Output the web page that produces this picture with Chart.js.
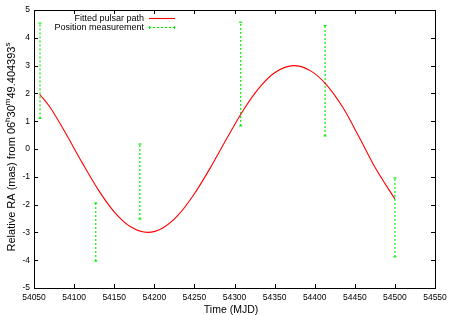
<!DOCTYPE html>
<html><head><meta charset="utf-8">
<script src="https://cdn.jsdelivr.net/npm/chart.js@4/dist/chart.umd.min.js"></script>
<style>html,body{margin:0;padding:0;background:#fff}canvas{display:block}</style>
</head><body>
<canvas id="c" width="450" height="315"></canvas>
<script>
// ---- data ----
const xTicks = [54050,54100,54150,54200,54250,54300,54350,54400,54450,54500,54550];
const yTicks = [-5,-4,-3,-2,-1,0,1,2,3,4,5];
const pathMJD = [54057,54070,54090,54110,54130,54150,54170,54192,54210,54230,54250,54270,54290,54310,54330,54350,54374,54395,54415,54435,54455,54475,54500];
const pathRA  = [1.97,1.50,0.54,-0.49,-1.46,-2.26,-2.79,-3.00,-2.85,-2.37,-1.61,-0.67,0.36,1.35,2.17,2.74,3.00,2.81,2.30,1.50,0.45,-0.65,-1.80];
const obsMJD  = [54057.5,54127,54182,54307.7,54413,54500];
const obsLow  = [1.10,-4.03,-2.52,0.83,0.47,-3.88];
const obsHigh = [4.53,-1.94,0.18,4.56,4.44,-1.04];
const legendLabels = ['Fitted pulsar path','Position measurement'];
const xTitle = 'Time (MJD)';
const yTitleParts = [['Relative RA (mas) from 06',0],['h',1],['30',0],['m',1],['49.404393',0],['s',1]];

const RED = '#ff0000', GREEN = '#00ee00';
const FONT = '"Liberation Sans", Arial, Helvetica, sans-serif';

const datasets = [{
  label: legendLabels[0],
  data: pathMJD.map((x,i)=>({x, y: pathRA[i]})),
  showLine: true, borderColor: RED, borderWidth: 1.1, pointRadius: 0,
  cubicInterpolationMode: 'monotone', fill: false
}];
obsMJD.forEach((x,i)=>{
  datasets.push({
    label: legendLabels[1],
    data: [{x, y: obsLow[i]},{x, y: obsHigh[i]}],
    showLine: true, borderColor: GREEN, borderWidth: 1.2, borderDash: [2,2],
    pointStyle: 'line', pointRadius: 1.5, pointBorderColor: GREEN, pointBorderWidth: 1.2,
    fill: false
  });
});

const framePlugin = {
  id: 'frame',
  afterDraw(chart) {
    const {ctx, chartArea: a, scales: {x, y}} = chart;
    ctx.save();
    ctx.strokeStyle = '#000'; ctx.lineWidth = 1;
    ctx.strokeRect(Math.round(a.left)+0.5, Math.round(a.top)+0.5, Math.round(a.right-a.left), Math.round(a.bottom-a.top));
    ctx.beginPath();
    const tl = 4;
    xTicks.forEach(v=>{
      const px = Math.round(x.getPixelForValue(v))+0.5;
      ctx.moveTo(px, a.bottom); ctx.lineTo(px, a.bottom - tl);
      ctx.moveTo(px, a.top); ctx.lineTo(px, a.top + tl);
    });
    yTicks.forEach(v=>{
      const py = Math.round(y.getPixelForValue(v))+0.5;
      ctx.moveTo(a.left, py); ctx.lineTo(a.left + tl, py);
      ctx.moveTo(a.right, py); ctx.lineTo(a.right - tl, py);
    });
    ctx.stroke();

    // legend (gnuplot style: text right, sample line)
    ctx.font = '9px ' + FONT;
    ctx.fillStyle = '#000';
    ctx.textAlign = 'right'; ctx.textBaseline = 'middle';
    const rows = [18.5, 27.5];
    ctx.fillText(legendLabels[0], 144, rows[0]);
    ctx.fillText(legendLabels[1], 144, rows[1]);
    ctx.strokeStyle = RED; ctx.lineWidth = 1.1;
    ctx.beginPath(); ctx.moveTo(149, rows[0]); ctx.lineTo(175, rows[0]); ctx.stroke();
    ctx.strokeStyle = GREEN; ctx.lineWidth = 1.2; ctx.setLineDash([2,2]);
    ctx.beginPath(); ctx.moveTo(149, rows[1]); ctx.lineTo(175, rows[1]); ctx.stroke();
    ctx.setLineDash([]);
    ctx.beginPath(); ctx.moveTo(149.5, rows[1]-1.5); ctx.lineTo(149.5, rows[1]+1.5);
    ctx.moveTo(174.5, rows[1]-1.5); ctx.lineTo(174.5, rows[1]+1.5); ctx.stroke();

    // x title
    ctx.fillStyle = '#000';
    ctx.font = '10.5px ' + FONT;
    ctx.textAlign = 'center'; ctx.textBaseline = 'alphabetic';
    ctx.fillText(xTitle, 231, 313);

    // y title with superscripts (rotated)
    const big = 11, small = 8;
    ctx.translate(15, 147);
    ctx.rotate(-Math.PI/2);
    let total = 0;
    yTitleParts.forEach(([t,s])=>{ ctx.font = (s?small:big)+'px '+FONT; total += ctx.measureText(t).width; });
    let cx = -total/2;
    ctx.textAlign = 'left';
    yTitleParts.forEach(([t,s])=>{
      ctx.font = (s?small:big)+'px '+FONT;
      ctx.fillText(t, cx, s ? -5 : 0);
      cx += ctx.measureText(t).width;
    });
    ctx.restore();
  }
};

new Chart(document.getElementById('c'), {
  type: 'scatter',
  data: { datasets },
  options: {
    responsive: false, animation: false,
    layout: { padding: { top: 10, right: 15, left: 0, bottom: 0 } },
    plugins: { legend: { display: false }, tooltip: { enabled: false } },
    scales: {
      x: {
        type: 'linear', min: 54050, max: 54550,
        grid: { display: false, drawTicks: false }, border: { display: false },
        afterBuildTicks: s => { s.ticks = xTicks.map(v=>({value: v})); },
        afterFit: s => { s.height = 27; s.paddingLeft = 0; s.paddingRight = 0; },
        ticks: { callback: v => String(v), color: '#000', padding: 5, maxRotation: 0, autoSkip: false,
                 font: { family: FONT, size: 8.5 } }
      },
      y: {
        type: 'linear', min: -5, max: 5,
        grid: { display: false, drawTicks: false }, border: { display: false },
        afterBuildTicks: s => { s.ticks = yTicks.map(v=>({value: v})); },
        afterFit: s => { s.width = 34; s.paddingTop = 0; s.paddingBottom = 0; },
        ticks: { callback: v => String(v), color: '#000', padding: 4, autoSkip: false,
                 font: { family: FONT, size: 8.5 } }
      }
    }
  },
  plugins: [framePlugin]
});
</script>
</body></html>
